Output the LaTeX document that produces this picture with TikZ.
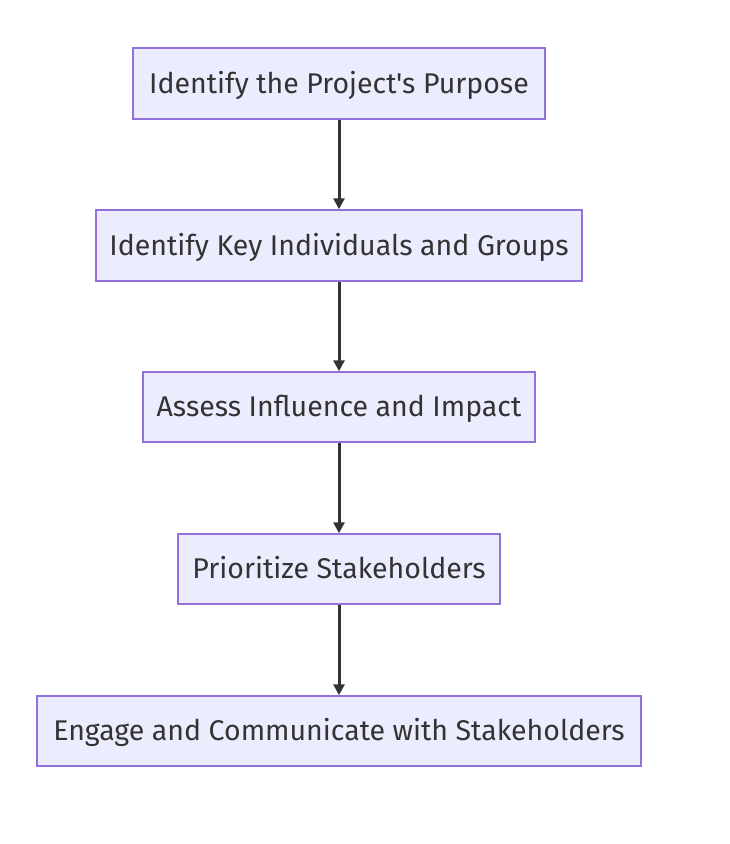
\documentclass[tikz,border=0pt]{standalone}
\usepackage{fontspec}
\setmainfont{Fira Sans}[Ligatures=TeXOff]
\usetikzlibrary{arrows.meta}
\definecolor{nodefill}{HTML}{ECECFF}
\definecolor{nodeline}{HTML}{9370DB}
\definecolor{txt}{HTML}{333333}
\tikzset{
  stepbox/.style={draw=nodeline, fill=nodefill, line width=1.5pt, text=txt,
    font=\fontsize{28.5}{32}\selectfont, inner sep=0pt, anchor=center,
    text height=19.6pt, text depth=0pt},
  flow/.style={draw=txt, line width=3pt, -{Triangle[length=11pt,width=11pt]}, shorten >=0pt}
}
\begin{document}
\begin{tikzpicture}[x=1pt,y=-1pt]
\useasboundingbox (0,0) rectangle (730,844);
\node[stepbox, minimum width=412pt, minimum height=71pt] (a) at (339,83.5) {Identify the Project's Purpose};
\node[stepbox, minimum width=486pt, minimum height=71pt] (b) at (339,245.5) {Identify Key Individuals and Groups};
\node[stepbox, minimum width=392pt, minimum height=70pt] (c) at (339,407) {Assess Influence and Impact};
\node[stepbox, minimum width=322pt, minimum height=70pt] (d) at (339,569) {Prioritize Stakeholders};
\node[stepbox, minimum width=604pt, minimum height=70pt] (e) at (339,731) {Engage and Communicate with Stakeholders};
\draw[flow] (a.south) -- (b.north);
\draw[flow] (b.south) -- (c.north);
\draw[flow] (c.south) -- (d.north);
\draw[flow] (d.south) -- (e.north);
\end{tikzpicture}
\end{document}
